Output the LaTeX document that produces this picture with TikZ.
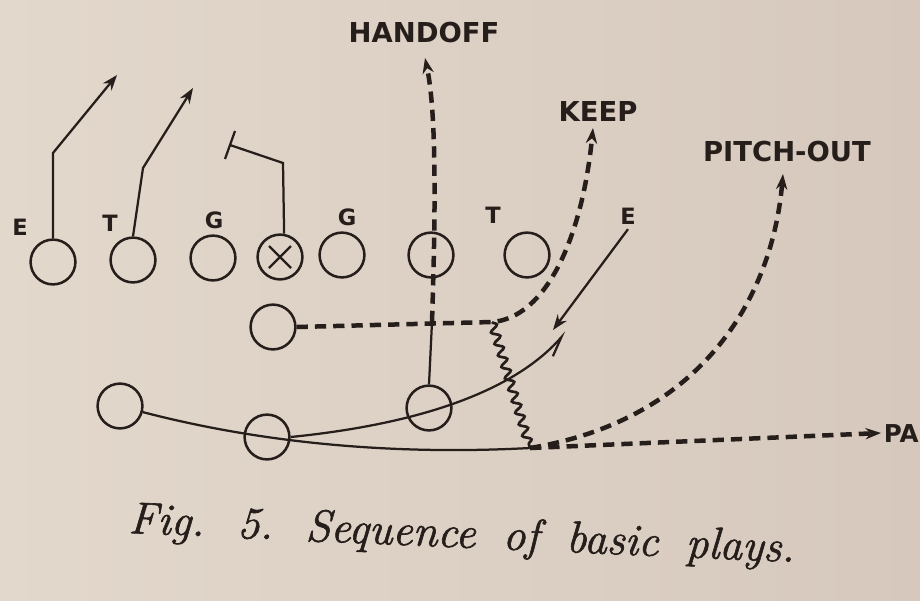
\documentclass[tikz,border=0pt]{standalone}
\usepackage{fontspec}
\usetikzlibrary{arrows.meta,decorations.pathmorphing}

\newfontfamily\playfont{DejaVu Sans}
\newfontface\capfont{lmroman12-italic.otf}[FakeBold=1.4]
\definecolor{paperlight}{RGB}{227,216,204}
\definecolor{paperdark}{RGB}{214,200,189}
\definecolor{ink}{RGB}{38,30,27}

\begin{document}
\begin{tikzpicture}[x=0.025cm,y=-0.025cm,
    player/.style={circle,draw=ink,line width=1.8pt,minimum size=1.12cm,inner sep=0pt},
    poslabel/.style={text=ink,font=\playfont\bfseries\fontsize{16}{16}\selectfont},
    playname/.style={text=ink,font=\playfont\bfseries\fontsize{19.5}{19.5}\selectfont},
    run/.style={draw=ink,line width=1.6pt},
    option/.style={draw=ink,line width=3.2pt,dash pattern=on 8pt off 5pt},
    headed/.style={-{Stealth[length=11pt,width=8pt]}}]
    \useasboundingbox (0,0) rectangle (920,600);
    \shade[left color=paperlight,right color=paperdark] (0,0) rectangle (920,600);

    % line
    \node[player] (le) at (53,262) {};
    \node[player] (lt) at (133,260) {};
    \node[player] (lg) at (213,258) {};
    \node[player] (lc) at (280,257) {};
    \node[player] (rg) at (342,255) {};
    \node[player] (rx) at (431,255) {};
    \node[player] (rt) at (527,255) {};
    \draw[run] ([shift={(-11,-11)}]lc.center) -- ([shift={(11,11)}]lc.center);
    \draw[run] ([shift={(-11,11)}]lc.center) -- ([shift={(11,-11)}]lc.center);

    % backs
    \node[player] (qb) at (273,327) {};
    \node[player] (lh) at (120,406) {};
    \node[player] (fb) at (267,437) {};
    \node[player] (rh) at (429,408) {};

    % position letters
    \node[poslabel] (le-l) at (20,227) {E};
    \node[poslabel] (lt-l) at (110,223) {T};
    \node[poslabel] (lg-l) at (214,220) {G};
    \node[poslabel] (rg-l) at (347,217) {G};
    \node[poslabel] (rt-l) at (493,215) {T};
    \node[poslabel] (re-l) at (628,216) {E};

    % play names
    \node[playname] (handoff) at (424,33) {HANDOFF};
    \node[playname] (keep) at (598,111) {KEEP};
    \node[playname] (pitch) at (787,152) {PITCH-OUT};
    \node[playname,font=\playfont\bfseries\fontsize{17.5}{17.5}\selectfont,anchor=east,inner xsep=0pt] (pass) at (919,434) {PA};

    % blocking
    \coordinate (ebend) at (53,153);
    \coordinate (etip) at (117,75);
    \draw[run,headed] (le.north) -- (ebend) -- (etip);
    \coordinate (tbend) at (143,168);
    \coordinate (ttip) at (193,88);
    \draw[run,headed] (lt.north) -- (tbend) -- (ttip);
    \coordinate (cbend) at (283,163);
    \coordinate (cstop) at (230,145);
    \draw[run] (lc.80) -- (cbend) -- (cstop);
    \draw[run] ([shift={(5,-14)}]cstop) -- ([shift={(-5,14)}]cstop);
    \coordinate (edown) at (553,330);
    \draw[run,headed] (re-l.south) -- (edown);

    % handoff
    \coordinate (cross) at (432,322);
    \coordinate (htip) at (425,58);
    \draw[run] (rh.north) -- (cross);
    \draw[option,headed] (cross) .. controls (436,200) and (436,110) .. (htip);

    % keep
    \coordinate (fake) at (492,322);
    \coordinate (ktip) at (593,128);
    \draw[option,headed] (qb.east) -- (fake) .. controls (545,318) and (582,240) .. (ktip);

    % option run
    \coordinate (otip) at (566,332);
    \draw[run,-{Straight Barb[harpoon,swap,length=14pt,width=9pt]}] (fb.east) .. controls (410,425) and (510,395) .. (otip);

    % pitch and pass
    \coordinate (snap) at (530,448);
    \draw[run,line width=1.9pt,decorate,decoration={snake,segment length=0.3cm,amplitude=0.1cm}] (fake) -- (snap);
    \draw[run] (lh.-15) .. controls (250,440) and (380,456) .. (snap);
    \coordinate (ptip) at (881,433);
    \draw[option,headed] (snap) -- (ptip);
    \coordinate (pttip) at (783,174);
    \draw[option,headed] (snap) .. controls (700,420) and (772,300) .. (pttip);

    % caption
    \node[text=ink,font=\capfont\fontsize{32}{32}\selectfont,anchor=base west,rotate=-2.5,inner sep=0pt] (cap) at (128,533)
        {\spaceskip=19.5pt Fig. 5. Sequence of basic plays.};
\end{tikzpicture}
\end{document}
